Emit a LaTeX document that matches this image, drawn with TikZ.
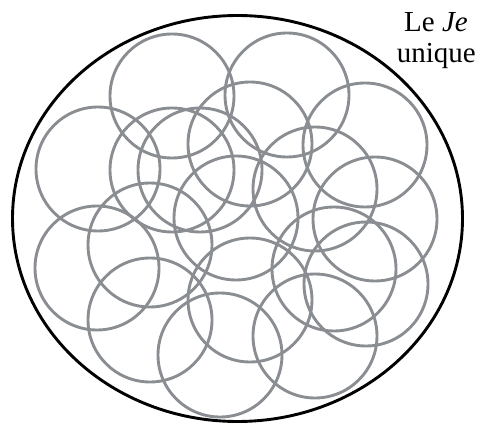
\documentclass[tikz,border=0pt]{standalone}
\usepackage{fontspec}
\setmainfont{Liberation Serif}
\begin{document}
\begin{tikzpicture}[x=1pt,y=-1pt,
  ring/.style={draw=ringgray,line width=2.9pt},
  outer/.style={draw=black,line width=2.9pt}]
\definecolor{ringgray}{RGB}{138,141,145}
\useasboundingbox (0,0) rectangle (477,425);
\draw[outer] (237.5,218.5) ellipse [x radius=225, y radius=203];
\foreach \i/\x/\y in {1/172/96, 2/287/95, 3/250/144, 4/365/145, 5/98/169, 6/172/170, 7/200/170, 8/315/189, 9/236/218, 10/375/219, 11/150/245, 12/97/268, 13/334/269, 14/250/300, 15/150/320, 16/366/284, 17/315/336, 18/220/355}
  \draw[ring] (\x,\y) circle [radius=62];
\node[anchor=base east,font=\fontsize{29}{33}\selectfont,inner sep=0pt] (le) at (468,32) {Le \textit{Je}};
\node[anchor=base east,font=\fontsize{29}{33}\selectfont,inner sep=0pt] (uq) at (476,63) {unique};
\end{tikzpicture}
\end{document}
